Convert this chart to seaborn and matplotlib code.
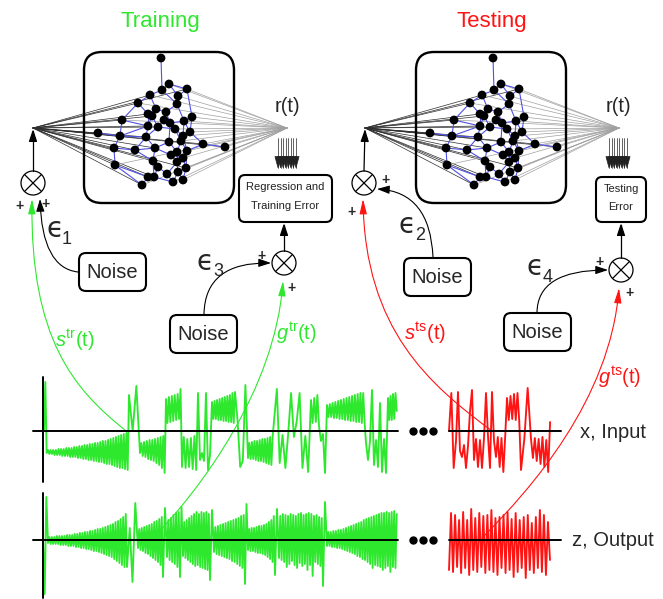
import numpy as np
import pandas as pd
import matplotlib
matplotlib.use("Agg")
import matplotlib.pyplot as plt
import seaborn as sns
from matplotlib.patches import FancyBboxPatch, Circle, FancyArrowPatch
from matplotlib.path import Path

# ---------------------------------------------------------------- data
# Reservoir nodes, coordinates inside the network box (y grows downward)
node_x = [77, 85, 78, 103, 66, 94, 54, 93, 72, 64, 82, 108, 68, 38, 80, 100,
          86, 64, 74, 91, 106, 14, 36, 62, 99, 85, 97, 119, 141, 30, 51, 71,
          103, 87, 93, 99, 69, 93, 31, 74, 102, 83, 94, 64, 70, 89, 99, 58]
node_y = [6, 32, 38, 37, 43, 44, 51, 52, 57, 62, 60, 65, 64, 68, 68, 69,
          71, 74, 75, 77, 80, 81, 84, 85, 84, 90, 89, 92, 95, 96, 98, 96,
          99, 103, 100, 106, 109, 110, 113, 115, 116, 122, 120, 125, 125, 130, 128, 133]
edges = [(0, 2), (1, 2), (1, 5), (1, 3), (2, 4), (2, 7), (3, 5), (3, 11), (4, 6), (4, 8),
         (5, 7), (6, 13), (6, 9), (7, 10), (7, 15), (8, 9), (8, 10), (8, 12), (9, 12), (9, 17),
         (10, 14), (10, 16), (11, 15), (11, 20), (12, 17), (12, 18), (13, 22), (13, 17), (14, 16),
         (14, 18), (15, 16), (15, 20), (15, 24), (16, 19), (16, 25), (17, 23), (17, 22), (18, 23),
         (18, 19), (19, 24), (19, 26), (20, 27), (20, 24), (21, 22), (22, 29), (22, 23), (23, 30),
         (23, 31), (24, 26), (24, 32), (25, 31), (25, 34), (26, 34), (26, 32), (27, 28), (27, 32),
         (29, 30), (29, 38), (30, 36), (30, 31), (31, 36), (31, 33), (32, 35), (32, 40), (33, 35),
         (33, 37), (34, 37), (35, 40), (35, 37), (36, 39), (36, 44), (37, 41), (37, 42), (38, 43),
         (38, 47), (39, 44), (39, 41), (40, 42), (40, 46), (41, 45), (42, 45), (42, 46), (43, 47),
         (43, 44), (44, 45)]
fan_in = [3, 4, 6, 13, 9, 17, 21, 22, 23, 29, 30, 38, 43, 47, 36, 31, 12, 18, 27, 28, 40, 44]
fan_out = [3, 1, 5, 11, 15, 20, 24, 27, 28, 32, 35, 40, 42, 46, 45, 26, 19, 13, 6, 4, 38, 47]

# Training input x(t): samples between successive time knots
train_x_knots = [0, 4, 85, 96, 122, 138, 154, 168, 191, 204, 230, 267, 275, 283, 322, 344, 354]
train_x_segs = [
    [0, 49, -22],
    [-19, -23, -19, -23, -19, -24, -19, -24, -18, -24, -18, -25, -18, -25, -17, -25, -17, -26,
     -17, -26, -16, -26, -16, -27, -15, -27, -15, -28, -14, -28, -14, -29, -13, -29, -13, -30,
     -12, -30, -12, -31, -11, -31, -10, -32, -10, -33, -9, -33, -8, -34, -7, -35, -6, -36,
     -5, -37, -4, -37, -3, -38, -2, -39],
    [36, 0, 45],
    [-22, -12, -25, -11, -26, -10, -28, -9, -29, -9, -30, -8, -32, -7, -34, -6, -37, -5, -42],
    [32, 8, 34, 9, 35, 10, 36, 11, 37, 12, 42],
    [-36, -6, -37, -8, -36, -7, -38, -5, -39],
    [38, -29, -22, -30, 38, -39, -24],
    [29, 12, 30, 12, 31, 11, 32, 11, 33, 10, 34, 10, 35, 9, 36, 9, 38, 8],
    [39, 10, -36, -30, 46],
    [-27, -12, -28, -11, -28, -10, -29, -10, -30, -9, -30, -8, -31, -8, -32, -7, -33, -6, -34, -5],
    [10, 42, -32, -4, -37, -2, 38, -6, 10, 38, -37, -5, -41],
    [31, 8, 33, 9, 36],
    [5, -10, -3, -42],
    [26, 14, 27, 14, 28, 13, 29, 13, 30, 12, 31, 12, 32, 11, 33, 11, 34, 10, 35, 10, 36, 9,
     37, 9, 38, 8, 38, 9],
    [-12, -29, -10, 41, -34, -9, -36, 28, -41, -8, -42],
    [33, 11, 35, 11, 37, 12, 38, 20],
]

# Training output z(t)
train_z_knots = [-1, 4, 83, 94, 119, 123, 136, 139, 166, 170, 201, 204, 231, 235, 279, 283, 354]
train_z_segs = [
    [0, -54, 43],
    [-3, 3, -4, 3, -4, 3, -4, 4, -4, 4, -5, 4, -5, 4, -5, 5, -6, 5, -6, 5, -6, 6, -7, 6, -7, 7,
     -8, 7, -8, 8, -9, 8, -9, 9, -10, 9, -11, 10, -11, 11, -12, 11, -13, 12, -14, 13, -15, 14,
     -16, 15, -17, 16, -19, 18, -21, 19, -23, 21, -25, 23, -27, 26],
    [-27, 12, -42, 37],
    [-8, 11, -10, 12, -11, 13, -13, 14, -14, 15, -16, 16, -18, 18, -20, 19, -22, 21, -25, 23],
    [-37, 32],
    [-17, 20, -20, 22, -22, 25, -24, 27, -27, 28],
    [-37, 33],
    [-16, 18, -18, 20, -20, 22, -22, 24, -24, 26, -26, 28, -25, 26, -27, 28, -28, 27, -29, 28, -30, 26],
    [-40, 30],
    [-12, 13, -14, 14, -15, 15, -16, 16, -17, 17, -18, 18, -19, 19, -21, 20, -22, 21, -24, 22,
     -26, 24, -28, 25],
    [-44, 36],
    [-10, 11, -11, 12, -11, 12, -12, 13, -13, 14, -13, 14, -14, 15, -15, 16, -17, 18, -19, 20, -22, 24],
    [-35, 31],
    [-18, 24, -20, 26, -22, 25, -27, 24, -24, 26, -21, 25, -25, 24, -28, 26, -23, 27, -26, 25,
     -24, 26, -30, 27, -25, 26, -36, 24, -22, 25, -24, 23, -26, 22],
    [-46, 38],
    [-6, 8, -6, 8, -7, 9, -7, 9, -8, 10, -8, 10, -9, 11, -10, 12, -11, 13, -12, 14, -13, 15,
     -14, 16, -16, 17, -17, 18, -19, 20, -20, 21, -22, 22, -24, 23, -28, 24, -25, 25, -26, 26,
     -27, 27, -30, 27, -28, 28, -26, 27, -32, 28, -27, 29, -28, 26],
]

# Testing input x(t)
test_x_knots = [0, 7, 21, 37, 47, 58, 72, 82, 103]
test_x_segs = [
    [0, 38, -37],
    [-10, 39, -20, -26, -14, -37, -15],
    [20, 41, -29, -8, -36, -9, -37, -7],
    [38, -5, -37, 39, -10],
    [-26, -6, -36, -7, -41, -6],
    [33, 11, 35, 12, 37, 11, 38, 10],
    [-39, -8, 43],
    [-8, -27, -7, -30, -8, -33, -6, -36, -9, -41, 9],
]

# Testing output z(t)
test_z_knots = [0, 103]
test_z_segs = [
    [-30, 27, -32, 25, -27, 20, -33, 28, -28, 20, -35, 31, -30, 22, -32, 27, -27, 24, -33, 25,
     -30, 30, -32, 22, -35, 23, -28, 25, -33, 28, -30, 21, -37, 27, -32, 20, -28, 23, -38, 25,
     -30, 17, -33, 23, -28, 30, -32, 25, -35, 18, -20],
]

# ---------------------------------------------------------------- style
sns.set_theme(style="white")
plt.rcParams["font.family"] = ["Liberation Sans", "DejaVu Sans"]
plt.rcParams["mathtext.fontset"] = "custom"
plt.rcParams["mathtext.rm"] = "Liberation Sans"
plt.rcParams["mathtext.it"] = "Liberation Sans:italic"
plt.rcParams["mathtext.fallback"] = "cm"

GREEN = "#2ee82e"
RED = "#ff1414"
BLUE = "#5050e6"
TITLE_FONT = ["Liberation Sans Narrow", "Liberation Sans", "DejaVu Sans"]

W, H = 663, 599
fig = plt.figure(figsize=(W / 100, H / 100), dpi=100)
fig.patch.set_facecolor("white")


def build(knots, segs):
    t, v = [], []
    for k0, k1, seg in zip(knots[:-1], knots[1:], segs):
        t.extend(np.linspace(k0, k1, len(seg), endpoint=False))
        v.extend(seg)
    return pd.DataFrame({"t": t, "v": v})


def panel(x0, x1, yc, tlim, half=60):
    a = fig.add_axes([x0 / W, 1 - (yc + half) / H, (x1 - x0) / W, 2 * half / H])
    a.set_xlim(*tlim)
    a.set_ylim(-half, half)
    a.axis("off")
    return a


def draw_signal(ax, df, color, tlim, half=60):
    sns.lineplot(data=df, x="t", y="v", ax=ax, color=color, lw=1.35,
                 estimator=None, sort=False, legend=False)
    ax.set_xlim(*tlim)
    ax.set_ylim(-half, half)
    ax.axis("off")
    for ln in ax.lines:
        ln.set_clip_on(False)


# signal panels
tr_lim = (train_x_knots[0] - 1, train_x_knots[-1])
ax_trx = panel(43, 398, 431, tr_lim)
draw_signal(ax_trx, build(train_x_knots, train_x_segs), GREEN, tr_lim)
ax_trz = panel(43, 398, 540, tr_lim)
draw_signal(ax_trz, build(train_z_knots, train_z_segs), GREEN, tr_lim)
ts_lim = (test_x_knots[0], test_x_knots[-1])
ax_tsx = panel(449, 552, 431, ts_lim)
draw_signal(ax_tsx, build(test_x_knots, test_x_segs), RED, ts_lim)
ax_tsz = panel(449, 552, 540, ts_lim)
draw_signal(ax_tsz, build(test_z_knots, test_z_segs), RED, ts_lim)


# reservoir networks
def network(bx, by):
    a = fig.add_axes([(bx - 60) / W, 1 - (by + 165) / H, 280 / W, 175 / H])
    in_hub, out_hub = (-51, 76), (203, 76)
    for i in fan_in:
        a.plot([in_hub[0], node_x[i]], [in_hub[1], node_y[i]], color="#2e2e2e", lw=0.5, zorder=1)
    for i in fan_out:
        a.plot([node_x[i], out_hub[0]], [node_y[i], out_hub[1]], color="#a0a0a0", lw=0.5, zorder=1)
    for i, j in edges:
        a.plot([node_x[i], node_x[j]], [node_y[i], node_y[j]], color=BLUE, lw=0.8, zorder=2)
    sns.scatterplot(x=node_x, y=node_y, ax=a, color="black", s=40, edgecolor="none",
                    zorder=4, legend=False)
    a.add_patch(FancyBboxPatch((0, 0), 150, 151, boxstyle="round,pad=0,rounding_size=18",
                               fill=False, ec="black", lw=1.7, zorder=3))
    a.set_xlim(-60, 220)
    a.set_ylim(165, -10)
    a.axis("off")
    for art in a.lines + a.collections:
        art.set_clip_on(False)


network(84, 52)
network(416, 52)

# diagram overlay in pixel coordinates
ov = fig.add_axes([0, 0, 1, 1])
ov.set_xlim(0, W)
ov.set_ylim(H, 0)
ov.axis("off")


def arrow(points, codes=None, color="black", lw=0.8, hl=0.75, hw=0.25, ms=10):
    if codes is None:
        codes = [Path.MOVETO] + [Path.LINETO] * (len(points) - 1)
    ov.add_patch(FancyArrowPatch(path=Path(points, codes),
                                 arrowstyle=f"-|>,head_length={hl},head_width={hw}",
                                 mutation_scale=ms, color=color, lw=lw))


CUBIC = [Path.MOVETO, Path.CURVE4, Path.CURVE4, Path.CURVE4]
QUAD = [Path.MOVETO, Path.CURVE3, Path.CURVE3]


def summer(x, y, r=12):
    ov.add_patch(Circle((x, y), r, fill=False, ec="black", lw=0.9))
    d = r * 0.707
    ov.plot([x - d, x + d], [y - d, y + d], color="black", lw=0.9)
    ov.plot([x - d, x + d], [y + d, y - d], color="black", lw=0.9)


def rbox(x0, y0, w, h, rad=7, lw=1.5):
    ov.add_patch(FancyBboxPatch((x0, y0), w, h, boxstyle=f"round,pad=0,rounding_size={rad}",
                                fc="white", ec="black", lw=lw))


def eps(x, y, sub):
    ov.text(x, y, "\u03f5", fontsize=20, ha="right", va="center", family=["DejaVu Sans"])
    ov.text(x - 1, y + 10, sub, fontsize=13, ha="left", va="center")


# titles
ov.text(160, 21, "Training", color=GREEN, fontsize=16, ha="center", va="center", family=TITLE_FONT)
ov.text(492, 21, "Testing", color=RED, fontsize=16, ha="center", va="center", family=TITLE_FONT)

# readout labels and error boxes
for cx in (287, 618):
    ov.text(cx, 107, "r(t)", fontsize=14.5, ha="center", va="center")
    for k in range(8):
        x = cx - 9 + k * 18 / 7
        arrow([(x, 138), (x, 169)], color="#222222", lw=0.5, hl=0.8, hw=0.22)

rbox(239, 175, 93, 47, rad=6)
ov.text(285.5, 187, "Regression and", fontsize=8, ha="center", va="center", color="#222222")
ov.text(285.5, 206, "Training Error", fontsize=8, ha="center", va="center", color="#222222")
rbox(596, 177, 50, 45, rad=6)
ov.text(621, 189, "Testing", fontsize=8, ha="center", va="center", color="#222222")
ov.text(621, 207, "Error", fontsize=8, ha="center", va="center", color="#222222")

# summing junctions
summer(33, 183)
summer(364, 183)
summer(284, 263)
summer(621, 270)
arrow([(33, 171), (33, 129)], lw=0.9)
arrow([(364, 171), (365, 129)], lw=0.9)
arrow([(284, 251), (284, 223)], lw=0.9)
arrow([(621, 258), (621, 223)], lw=0.9)

for (px, py) in [(19, 206), (46, 204), (386, 180), (351, 212), (261, 256), (292, 288),
                 (599, 262), (630, 293)]:
    ov.text(px, py, "+", fontsize=10, ha="center", va="center", fontweight="bold")

# noise sources
for (x0, y0) in [(79, 253), (404, 258), (170, 315), (504, 313)]:
    rbox(x0, y0, 67, 38, rad=7)
    ov.text(x0 + 33.5, y0 + 19.5, "Noise", fontsize=14.5, ha="center", va="center")

arrow([(78, 272), (42, 268), (40, 199)], QUAD, lw=0.8)
arrow([(433, 257), (430, 192), (377, 189)], QUAD, lw=0.8)
arrow([(204, 314), (205, 262), (271, 263)], QUAD, lw=0.8)
arrow([(537, 313), (537, 270), (608, 270)], QUAD, lw=0.8)

eps(63, 229, "1")
eps(416, 225, "2")
eps(214, 262, "3")
eps(544, 267, "4")

# teacher / input signal routes
arrow([(125, 430), (75, 390), (30, 340), (32, 199)], CUBIC, color=GREEN, lw=0.8, hl=0.9, hw=0.22)
arrow([(153, 538), (200, 490), (275, 390), (283, 281)], CUBIC, color=GREEN, lw=0.8, hl=0.9, hw=0.22)
arrow([(492, 431), (430, 385), (365, 330), (363, 199)], CUBIC, color=RED, lw=0.8, hl=0.9, hw=0.22)
arrow([(483, 537), (530, 490), (610, 400), (619, 288)], CUBIC, color=RED, lw=0.8, hl=0.9, hw=0.22)

ov.text(75, 340, r"$s^{\mathrm{tr}}$(t)", color=GREEN, fontsize=14.5, ha="center", va="center")
ov.text(296, 333, r"$g^{\mathrm{tr}}$(t)", color=GREEN, fontsize=14.5, ha="center", va="center")
ov.text(425, 333, r"$s^{\mathrm{ts}}$(t)", color=RED, fontsize=14.5, ha="center", va="center")
ov.text(620, 377, r"$g^{\mathrm{ts}}$(t)", color=RED, fontsize=14.5, ha="center", va="center")

# time axes
for yc in (431, 540):
    ov.plot([33, 398], [yc, yc], color="black", lw=1.4)
    ov.plot([449, 561], [yc, yc], color="black", lw=1.4)
    ov.plot([413, 423, 433], [yc, yc, yc], "o", color="black", ms=5)
ov.plot([43, 43], [377, 482], color="black", lw=1.4)
ov.plot([43, 43], [493, 598], color="black", lw=1.4)
ov.text(580, 432, "x, Input", fontsize=14.5, ha="left", va="center")
ov.text(572, 541, "z, Output", fontsize=14.5, ha="left", va="center")

fig.savefig("out.png", dpi=100)
